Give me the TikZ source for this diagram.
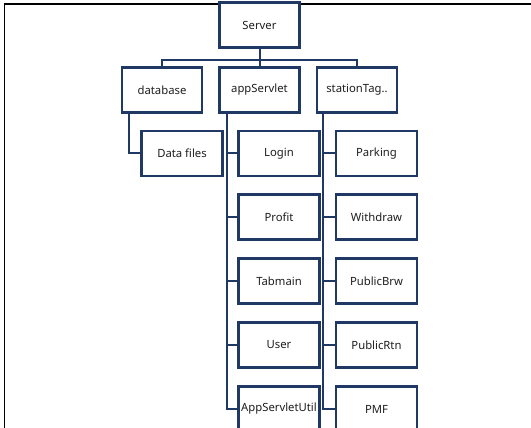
\documentclass[tikz,border=0pt]{standalone}
\usepackage{fontspec}
\setmainfont{Noto Sans}
\definecolor{boxblue}{RGB}{31,56,100}
\definecolor{labelgray}{RGB}{30,30,30}
\begin{document}
\begin{tikzpicture}[x=1pt,y=-1pt,
  pkg/.style={draw=boxblue, line width=2.2pt, fill=white, minimum width=80pt,
    minimum height=45pt, inner sep=0pt, font=\fontsize{11.3}{13}\selectfont,
    text=labelgray},
  leaf/.style={pkg, minimum width=81pt},
  link/.style={draw=boxblue, line width=2pt},
  frame/.style={draw=black, line width=1.6pt}]
\useasboundingbox (0,0) rectangle (531,428);
\clip (0,0) rectangle (531,428);
% outer frame (top and left edges)
\draw[frame] (4.5,428) -- (4.5,4) -- (531,4);
% root and first level
\node[pkg] (srv) at (259.5,25) {Server};
\node[pkg] (db)  at (162,90)   {database};
\node[pkg] (app) at (259.5,90) {appServlet};
\node[pkg] (st)  at (357,90)   {stationTag..};
\coordinate (bus) at (0,60);
% second level
\node[leaf] (df)  at (182,153.5) {Data files};
\node[leaf] (lg)  at (279,153.5) {Login};
\node[leaf] (pf)  at (279,217)   {Profit};
\node[leaf] (tm)  at (279,281)   {Tabmain};
\node[leaf] (us)  at (279,345)   {User};
\node[leaf] (asu) at (279,409)   {AppServletUtil};
\node[leaf] (pk)  at (376.5,153.5) {Parking};
\node[leaf] (wd)  at (376.5,217)   {Withdraw};
\node[leaf] (pb)  at (376.5,281)   {PublicBrw};
\node[leaf] (pr)  at (376.5,345)   {PublicRtn};
\node[leaf] (pm)  at (376.5,409)   {PMF};
% spines under each first-level box
\coordinate (dbs)  at ([xshift=8pt]db.south west);
\coordinate (apps) at ([xshift=8.5pt]app.south west);
\coordinate (sts)  at ([xshift=7pt]st.south west);
% connectors
\draw[link] (srv.south) -- (app.north);
\draw[link] (db.north) -- (db.north |- bus) -- (st.north |- bus) -- (st.north);
\draw[link] (dbs) |- (df.west);
\draw[link] (apps) |- (asu.west);
\draw[link] (sts) |- (pm.west);
\foreach \c in {lg,pf,tm,us} \draw[link] (\c.west) -- (\c.west -| apps);
\foreach \c in {pk,wd,pb,pr} \draw[link] (\c.west) -- (\c.west -| sts);
\end{tikzpicture}
\end{document}
